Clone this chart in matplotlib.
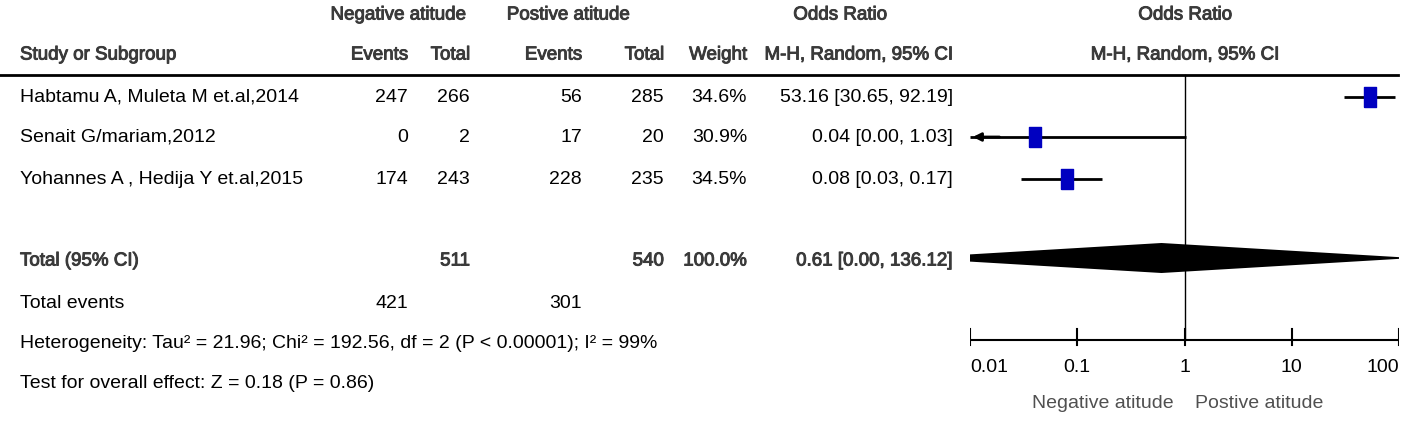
import numpy as np
import matplotlib.pyplot as plt
import matplotlib.patheffects as pe
from matplotlib.path import Path

plt.rcParams['font.family'] = ['Liberation Sans', 'DejaVu Sans']

studies = ['Habtamu A, Muleta M et.al,2014', 'Senait G/mariam,2012', 'Yohannes A , Hedija Y et.al,2015']
neg_events = [247, 0, 174]
neg_total = [266, 2, 243]
pos_events = [56, 17, 228]
pos_total = [285, 20, 235]
weights = [34.6, 30.9, 34.5]
odds = [53.16, 0.04, 0.08]
ci_low = [30.65, 0.0015, 0.03]
ci_high = [92.19, 1.03, 0.17]
ci_text = ['53.16 [30.65, 92.19]', '0.04 [0.00, 1.03]', '0.08 [0.03, 0.17]']

tot_neg, tot_pos = 511, 540
tot_neg_events, tot_pos_events = 421, 301
tot_or, tot_lo, tot_hi = 0.61, 0.00273, 136.12
tot_text = '0.61 [0.00, 136.12]'
ticks = [0.01, 0.1, 1, 10, 100]
tick_labels = ['0.01', '0.1', '1', '10', '100']

W, H = 1418, 421
fig = plt.figure(figsize=(W / 100, H / 100), dpi=100)
ax = fig.add_axes([0, 0, 1, 1])
ax.set_xlim(0, W)
ax.set_ylim(H, 0)
ax.axis('off')

fs = 14
gray = '#3a3a3a'
semi = [pe.withStroke(linewidth=0.7, foreground=gray)]
hdr = dict(fontsize=13.5, color=gray, va='center', path_effects=semi)
body = dict(fontsize=fs, color='black', va='center')

# header
ax.text(398, 15, 'Negative atitude', ha='center', **hdr)
ax.text(568, 15, 'Postive atitude', ha='center', **hdr)
ax.text(840, 15, 'Odds Ratio', ha='center', **hdr)
ax.text(1185, 15, 'Odds Ratio', ha='center', **hdr)
y2 = 55
ax.text(20, y2, 'Study or Subgroup', ha='left', **hdr)
cols = [408, 470, 582, 664, 747, 953]
for x, s in zip(cols, ['Events', 'Total', 'Events', 'Total', 'Weight', 'M-H, Random, 95% CI']):
    ax.text(x, y2, s, ha='right', **hdr)
ax.text(1185, y2, 'M-H, Random, 95% CI', ha='center', **hdr)
ax.plot([0, 1398], [75, 75], color='black', lw=2)

rows_y = [97, 137, 179]
for i, y in enumerate(rows_y):
    ax.text(20, y, studies[i], ha='left', **body)
    vals = [neg_events[i], neg_total[i], pos_events[i], pos_total[i], f'{weights[i]:.1f}%', ci_text[i]]
    for x, v in zip(cols, vals):
        ax.text(x, y, str(v), ha='right', **body)

yt = 261
ax.text(20, yt, 'Total (95% CI)', ha='left', **hdr)
for x, v in zip([cols[1], cols[3], cols[4], cols[5]], [tot_neg, tot_pos, '100.0%', tot_text]):
    ax.text(x, yt, str(v), ha='right', **hdr)
ax.text(20, 303, 'Total events', ha='left', **body)
ax.text(cols[0], 303, str(tot_neg_events), ha='right', **body)
ax.text(cols[2], 303, str(tot_pos_events), ha='right', **body)
ax.text(20, 344, 'Heterogeneity: Tau\u00b2 = 21.96; Chi\u00b2 = 192.56, df = 2 (P < 0.00001); I\u00b2 = 99%', ha='left', **body)
ax.text(20, 384, 'Test for overall effect: Z = 0.18 (P = 0.86)', ha='left', **body)

# forest panel
x0, x1 = 970, 1399
fax = fig.add_axes([x0 / W, 0, (x1 - x0) / W, 1])
fax.set_xscale('log')
fax.set_xlim(0.01, 100)
fax.set_ylim(H, 0)
fax.axis('off')
fax.patch.set_alpha(0)

fax.plot([1, 1], [75, 340], color='black', lw=1)
rect = Path([(-0.3, -0.5), (0.3, -0.5), (0.3, 0.5), (-0.3, 0.5), (-0.3, -0.5)])
for i, y in enumerate(rows_y):
    lo = max(ci_low[i], 0.01)
    hi = min(ci_high[i], 100)
    fax.plot([lo, hi], [y, y], color='black', lw=2, solid_capstyle='butt')
    if ci_low[i] < 0.01:
        fax.annotate('', xy=(0.01, y), xytext=(0.02, y),
                     arrowprops=dict(arrowstyle='-|>', color='black', lw=2, mutation_scale=12),
                     annotation_clip=False)
    fax.plot(odds[i], y, marker=rect, ms=14 + (weights[i] - 30) * 0.2, color='#0000C0', mec='#0000C0')

yc, hh = 258, 15
fax.fill([tot_lo, tot_or, tot_hi, tot_or], [yc, yc - hh, yc, yc + hh], color='black', lw=0)

ya = 340
fax.plot([0.01, 100], [ya, ya], color='black', lw=1.5)
for t, lab in zip(ticks, tick_labels):
    fax.plot([t, t], [ya - 11, ya + 5], color='black', lw=1.5)
    fax.text(t, 367, lab, ha='left' if t == 0.01 else ('right' if t == 100 else 'center'),
             va='center', fontsize=fs, color='black')
fax.text(1 / 1.25, 403, 'Negative atitude', ha='right', va='center', fontsize=fs, color='#505050')
fax.text(1.25, 403, 'Postive atitude', ha='left', va='center', fontsize=fs, color='#505050')

fig.savefig('out.png', dpi=100)
